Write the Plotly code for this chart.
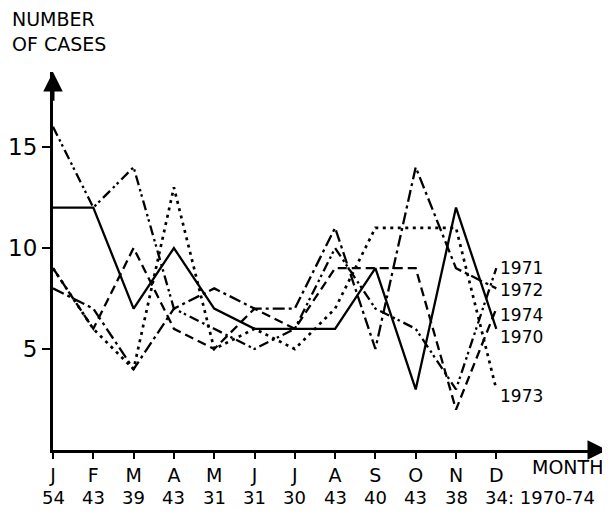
import plotly.graph_objects as go

months = ["J", "F", "M", "A", "M", "J", "J", "A", "S", "O", "N", "D"]
totals = ["54", "43", "39", "43", "31", "31", "30", "43", "40", "43", "38", "34"]
period = ": 1970-74"
y_ticks = [5, 10, 15]

cases_1970 = [12, 12, 7, 10, 7, 6, 6, 6, 9, 3, 12, 6]
cases_1971 = [16, 12, 14, 7, 6, 5, 6, 10, 7, 6, 3, 9]
cases_1972 = [8, 7, 4, 7, 8, 7, 7, 11, 5, 14, 9, 8]
cases_1973 = [9, 6, 4, 13, 5, 6, 5, 7, 11, 11, 11, 3]
cases_1974 = [9, 6, 10, 6, 5, 7, 6, 9, 9, 9, 2, 7]

series = [
    ("1970", cases_1970, "solid", 2.3),
    ("1971", cases_1971, "10px,4px,2.5px,3px,2.5px,4px", 2.3),
    ("1972", cases_1972, "12px,4px,3px,4px", 2.3),
    ("1973", cases_1973, "3px,4.5px", 2.7),
    ("1974", cases_1974, "9px,5px", 2.3),
]
label_shift = {"1970": -8, "1971": 0, "1972": -2, "1973": -7, "1974": -6}

FONT = "DejaVu Sans"
OFF = 8                       # page body margin
W, H = 610 - OFF, 518 - OFF   # figure size
PLOT_L, PLOT_R, PLOT_T, PLOT_B = 53, 607, 72, 450   # plot area in page pixels
L, R, T, B = PLOT_L - OFF, W - (PLOT_R - OFF), PLOT_T - OFF, H - (PLOT_B - OFF)
px_per_month = 40.3
px_per_case = 20.2
PW, PH = W - L - R, H - T - B
x_max = PW / px_per_month
y_max = PH / px_per_case
xs = list(range(len(months)))

def paper_x(px):
    return (px - PLOT_L) / PW

def paper_y(py):
    return (PLOT_B - py) / PH

fig = go.Figure()
for name, vals, dash, lw in series:
    fig.add_trace(go.Scatter(
        x=xs, y=vals, mode="lines", name=name,
        line=dict(color="black", width=lw, dash=dash),
        showlegend=False, hoverinfo="skip",
    ))

# series labels at line ends
for name, vals, dash, lw in series:
    fig.add_annotation(
        x=xs[-1], y=vals[-1], text=name, showarrow=False,
        xanchor="left", yanchor="middle", xshift=2, yshift=label_shift[name],
        font=dict(family=FONT, size=17, color="black"),
    )

# totals row
for i, t in enumerate(totals):
    fig.add_annotation(
        x=xs[i], y=paper_y(497), yref="paper", text=t, showarrow=False,
        xanchor="center", yanchor="middle",
        font=dict(family=FONT, size=18, color="black"),
    )
fig.add_annotation(
    x=xs[-1], y=paper_y(497), yref="paper", text=period, showarrow=False,
    xanchor="left", yanchor="middle", xshift=10,
    font=dict(family=FONT, size=18, color="black"),
)
fig.add_annotation(
    x=paper_x(567), y=paper_y(467), xref="paper", yref="paper", text="MONTH", showarrow=False,
    xanchor="center", yanchor="middle",
    font=dict(family=FONT, size=19, color="black"),
)

# y axis title
fig.add_annotation(
    x=paper_x(10), y=paper_y(31), xref="paper", yref="paper",
    text="NUMBER<br>OF CASES", showarrow=False, xanchor="left", yanchor="middle", align="left",
    font=dict(family=FONT, size=19, color="black"),
)

# axis arrows
fig.add_annotation(
    x=0, y=y_max, ax=0, ay=y_max - 1.5, xref="x", yref="y", axref="x", ayref="y",
    showarrow=True, arrowhead=2, arrowsize=1.3, arrowwidth=3, arrowcolor="black", text="",
)
fig.add_annotation(
    x=x_max, y=0, ax=x_max - 0.5, ay=0, xref="x", yref="y", axref="x", ayref="y",
    showarrow=True, arrowhead=2, arrowsize=1.3, arrowwidth=3, arrowcolor="black", text="",
)

fig.update_layout(
    width=W, height=H,
    margin=dict(l=L, r=R, t=T, b=B, autoexpand=False),
    paper_bgcolor="white", plot_bgcolor="white",
    xaxis=dict(
        range=[0, x_max], tickvals=xs, ticktext=months, automargin=False,
        showgrid=False, zeroline=False, showline=True, linecolor="black", linewidth=3,
        ticks="outside", ticklen=6, tickwidth=2, tickcolor="black",
        tickfont=dict(family=FONT, size=19, color="black"),
    ),
    yaxis=dict(
        range=[0, y_max], tickvals=y_ticks, automargin=False,
        showgrid=False, zeroline=False, showline=True, linecolor="black", linewidth=3,
        ticks="outside", ticklen=8, tickwidth=2, tickcolor="black",
        tickfont=dict(family=FONT, size=23, color="black"),
    ),
)

fig.write_html("out.html")
